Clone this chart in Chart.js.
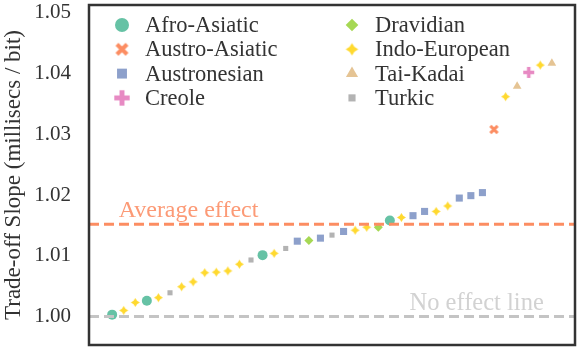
<!DOCTYPE html>
<html>
<head>
<meta charset="utf-8">
<script src="https://cdn.jsdelivr.net/npm/chart.js@4"></script>
<style>
  html, body { margin: 0; padding: 0; background: #fff; }
  #chart { display: block; }
</style>
</head>
<body>
<canvas id="chart" width="580" height="350"></canvas>
<script>
// Language families and their colours
const families = ['Afro-Asiatic', 'Austro-Asiatic', 'Austronesian', 'Creole', 'Dravidian', 'Indo-European', 'Tai-Kadai', 'Turkic'];
const familyColors = ['#66c2a5', '#fc8d62', '#8da0cb', '#e78ac3', '#a6d854', '#ffd92f', '#e5c494', '#b3b3b3'];

// One slope per language, sorted
const slopes = [
  1.0003, 1.0010, 1.0023, 1.0026, 1.0031, 1.0039, 1.0049, 1.0057, 1.0072, 1.0073,
  1.0075, 1.0086, 1.0093, 1.0101, 1.0104, 1.0112, 1.0124, 1.0125, 1.0129, 1.0134,
  1.0140, 1.0142, 1.0147, 1.0147, 1.0158, 1.0163, 1.0166, 1.0173, 1.0173, 1.0182,
  1.0195, 1.0199, 1.0204, 1.0308, 1.0362, 1.0379, 1.0402, 1.0414, 1.0417
];
const slopeFamily = [
  'Afro-Asiatic', 'Indo-European', 'Indo-European', 'Afro-Asiatic', 'Indo-European', 'Turkic', 'Indo-European', 'Indo-European', 'Indo-European', 'Indo-European',
  'Indo-European', 'Indo-European', 'Turkic', 'Afro-Asiatic', 'Indo-European', 'Turkic', 'Austronesian', 'Dravidian', 'Austronesian', 'Turkic',
  'Austronesian', 'Indo-European', 'Indo-European', 'Dravidian', 'Afro-Asiatic', 'Indo-European', 'Austronesian', 'Austronesian', 'Indo-European', 'Indo-European',
  'Austronesian', 'Austronesian', 'Austronesian', 'Austro-Asiatic', 'Indo-European', 'Tai-Kadai', 'Creole', 'Indo-European', 'Tai-Kadai'
];
const yTicks = [1.00, 1.01, 1.02, 1.03, 1.04, 1.05];
const averageEffect = 1.0152;
const noEffect = 1.0;

const FONT = '"Liberation Serif", "Times New Roman", serif';

// custom marker images
function makeMarker(color, half, draw) {
  const c = document.createElement('canvas');
  const size = Math.ceil(half * 2 + 2);
  c.width = size; c.height = size;
  const g = c.getContext('2d');
  g.translate(size / 2, size / 2);
  g.fillStyle = color; g.strokeStyle = color;
  draw(g, half);
  return c;
}
function drawX(g, h) {
  g.lineWidth = h * 0.65; g.lineCap = 'butt';
  const a = h * 0.8;
  g.beginPath(); g.moveTo(-a, -a); g.lineTo(a, a); g.moveTo(-a, a); g.lineTo(a, -a); g.stroke();
}
function drawPlus(g, h) {
  const t = h * 0.32;
  g.fillRect(-h, -t, 2 * h, 2 * t);
  g.fillRect(-t, -h, 2 * t, 2 * h);
}
function drawStar4(g, h) {
  const r = h * 0.38;
  g.beginPath();
  g.moveTo(0, -h); g.lineTo(r, -r); g.lineTo(h, 0); g.lineTo(r, r);
  g.lineTo(0, h); g.lineTo(-r, r); g.lineTo(-h, 0); g.lineTo(-r, -r);
  g.closePath(); g.fill();
}

function styleFor(fam, scale) {
  const col = familyColors[families.indexOf(fam)];
  switch (fam) {
    case 'Afro-Asiatic': return { pointStyle: 'circle', radius: 5 * scale };
    case 'Austro-Asiatic': return { pointStyle: makeMarker(col, 4.5 * scale, drawX), radius: 5 * scale };
    case 'Austronesian': return { pointStyle: 'rect', radius: 5 * scale };
    case 'Creole': return { pointStyle: makeMarker(col, 5.5 * scale, drawPlus), radius: 5 * scale };
    case 'Dravidian': return { pointStyle: 'rectRot', radius: 4.5 * scale };
    case 'Indo-European': return { pointStyle: makeMarker(col, 4.5 * scale, drawStar4), radius: 5 * scale };
    case 'Tai-Kadai': return { pointStyle: 'triangle', radius: 5 * scale };
    case 'Turkic': return { pointStyle: 'rect', radius: 3.6 * scale };
  }
}

const pointSets = families.map((fam, k) => {
  const st = styleFor(fam, 1);
  const data = [];
  slopes.forEach((v, i) => { if (slopeFamily[i] === fam) data.push({ x: i, y: v }); });
  return {
    type: 'scatter',
    label: fam,
    data: data,
    backgroundColor: familyColors[k],
    borderColor: familyColors[k],
    borderWidth: 0,
    pointStyle: st.pointStyle,
    pointRadius: st.radius,
    pointHoverRadius: st.radius,
    order: 2
  };
});

const lineSets = [
  { value: averageEffect, color: '#fc8d62' },
  { value: noEffect, color: '#c4c4c4' }
].map(l => ({
  type: 'line',
  label: '',
  data: [{ x: -2, y: l.value }, { x: 40, y: l.value }],
  borderColor: l.color,
  borderWidth: 3,
  borderDash: [10, 5],
  pointRadius: 0,
  fill: false,
  order: 1
}));

// frame, annotations and two-column legend inside the axes
const decor = {
  id: 'decor',
  afterDatasetsDraw(chart) {
    const { ctx, chartArea: a, scales: { x, y } } = chart;
    ctx.save();
    ctx.strokeStyle = '#333';
    ctx.lineWidth = 2.5;
    ctx.strokeRect(a.left, a.top, a.right - a.left, a.bottom - a.top);

    ctx.textAlign = 'center';
    ctx.textBaseline = 'alphabetic';
    ctx.font = '24px ' + FONT;
    ctx.fillStyle = '#fc9a76';
    ctx.fillText('Average effect', x.getPixelForValue(6.6), y.getPixelForValue(averageEffect) - 7);
    ctx.font = '24.5px ' + FONT;
    ctx.fillStyle = '#d2d2d2';
    ctx.fillText('No effect line', x.getPixelForValue(31.5), y.getPixelForValue(noEffect) - 6);

    ctx.textAlign = 'left';
    ctx.textBaseline = 'middle';
    ctx.font = '22.5px ' + FONT;
    families.forEach((fam, k) => {
      const col = Math.floor(k / 4), row = k % 4;
      const mx = a.left + 33 + col * 230;
      const my = a.top + 20 + row * 24.3;
      const st = styleFor(fam, 1.4);
      ctx.fillStyle = familyColors[k];
      ctx.strokeStyle = familyColors[k];
      Chart.helpers.drawPoint(ctx, { pointStyle: st.pointStyle, radius: st.radius, rotation: 0, borderWidth: 0 }, mx, my);
      ctx.fillStyle = '#333';
      ctx.fillText(fam, mx + 23, my + 1);
    });
    ctx.restore();
  }
};

new Chart(document.getElementById('chart'), {
  data: { datasets: [...lineSets, ...pointSets] },
  options: {
    responsive: false,
    devicePixelRatio: 1,
    animation: false,
    layout: { padding: { top: 3, right: 3, bottom: 3, left: 0 } },
    plugins: { legend: { display: false }, tooltip: { enabled: false } },
    scales: {
      x: { type: 'linear', min: -2, max: 40, display: false },
      y: {
        min: 0.9953, max: 1.0513,
        afterFit: s => { s.width = 89; s.paddingTop = 0; s.paddingBottom = 0; },
        afterBuildTicks: s => { s.ticks = yTicks.map(v => ({ value: v })); },
        grid: { display: false, drawTicks: false },
        border: { display: false },
        ticks: {
          padding: 18,
          color: '#333',
          font: { family: FONT, size: 21 },
          callback: v => v.toFixed(2)
        },
        title: {
          display: true,
          text: 'Trade-off Slope (millisecs / bit)',
          color: '#333',
          font: { family: FONT, size: 23 },
          padding: { top: 0, bottom: 0 }
        }
      }
    }
  },
  plugins: [decor]
});
</script>
</body>
</html>
